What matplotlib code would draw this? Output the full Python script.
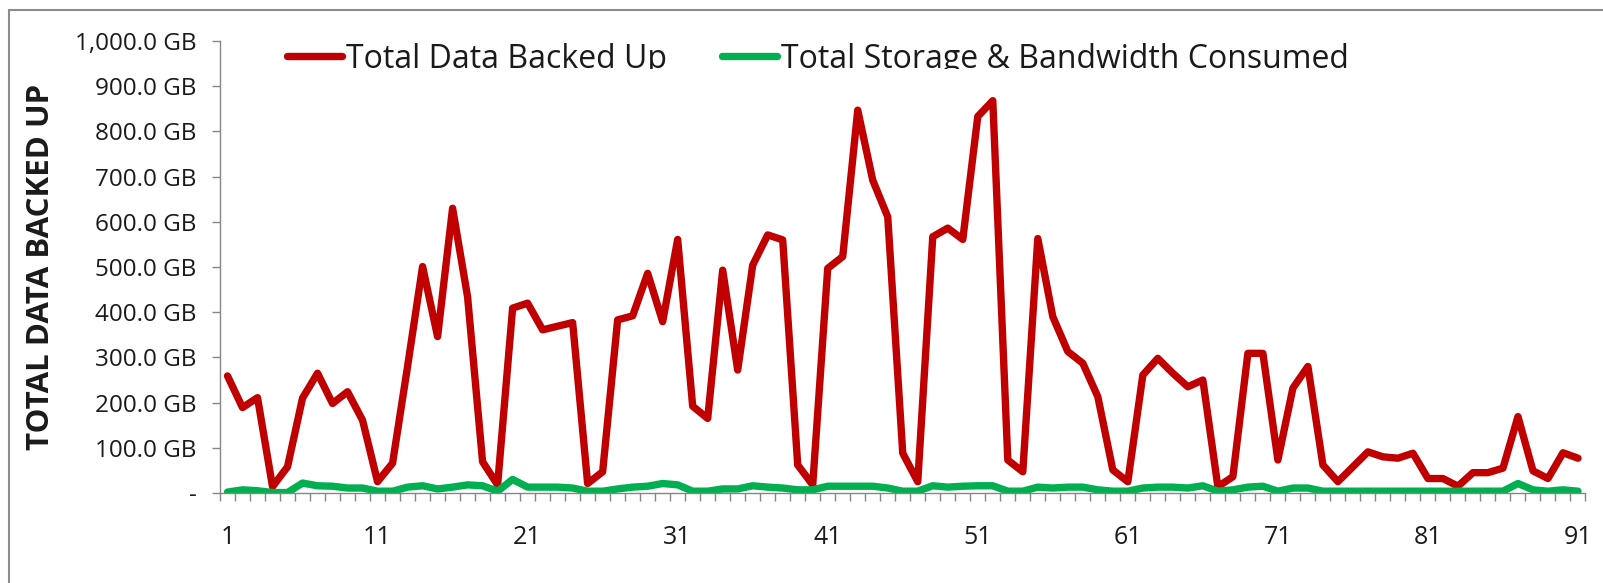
import matplotlib
matplotlib.use("Agg")
import matplotlib.pyplot as plt
from matplotlib.patches import Rectangle
from matplotlib.ticker import FixedLocator, FuncFormatter
from matplotlib.transforms import Bbox, TransformedBbox

# day index 1..91
days = list(range(1, 92))

total_backed_up = [
    259, 189, 211, 14, 58, 210, 265, 198, 224, 161,
    25, 66, 280, 501, 346, 630, 434, 69, 18, 409,
    420, 361, 369, 377, 21, 47, 383, 392, 486, 379,
    561, 192, 165, 493, 272, 504, 571, 560, 62, 18,
    497, 523, 847, 692, 611, 88, 25, 567, 586, 561,
    833, 868, 73, 47, 563, 390, 313, 287, 213, 51,
    25, 261, 298, 265, 235, 250, 14, 36, 309, 309,
    73, 232, 280, 62, 25, 58, 91, 80, 77, 88,
    32, 32, 15, 45, 45, 55, 169, 49, 32, 89,
    77,
]

storage_bandwidth = [
    2, 7, 5, 1, 1, 22, 16, 15, 11, 11,
    4, 4, 13, 16, 9, 13, 18, 16, 4, 30,
    13, 13, 13, 11, 4, 4, 9, 13, 15, 21,
    18, 4, 4, 9, 9, 16, 13, 11, 7, 7,
    15, 15, 15, 15, 11, 4, 4, 16, 13, 15,
    16, 16, 4, 4, 13, 11, 13, 13, 7, 4,
    4, 11, 13, 13, 11, 16, 4, 7, 13, 15,
    4, 11, 11, 4, 4, 4, 4, 4, 4, 4,
    4, 4, 4, 4, 4, 4, 21, 7, 4, 7,
    4,
]

x_labels = list(range(1, 92, 10))
y_ticks = list(range(0, 1001, 100))

RED = "#C00000"
GREEN = "#00B050"
AXIS_GREY = "#868686"
TEXT = "#1a1a1a"
LW = 5.3

plt.rcParams["font.family"] = ["Open Sans", "DejaVu Sans"]

W, H = 1603, 583
fig = plt.figure(figsize=(W / 100, H / 100), dpi=100)
ax = fig.add_axes([220 / W, 90 / H, (1585.5 - 220) / W, (493 - 41) / H])

ax.plot(days, total_backed_up, color=RED, lw=LW, label="Total Data Backed Up",
        solid_joinstyle="round", solid_capstyle="round")
ax.plot(days, storage_bandwidth, color=GREEN, lw=LW,
        label="Total Storage & Bandwidth Consumed",
        solid_joinstyle="round", solid_capstyle="round")

ax.set_xlim(0.5, 91.5)
ax.set_ylim(0, 1000)

for side in ("top", "right"):
    ax.spines[side].set_visible(False)
for side in ("left", "bottom"):
    ax.spines[side].set_color(AXIS_GREY)
    ax.spines[side].set_linewidth(1.0)

# x: labels every 10 days, tick marks between categories
ax.xaxis.set_major_locator(FixedLocator(x_labels))
ax.xaxis.set_minor_locator(FixedLocator([d + 0.5 for d in range(0, 92)]))
ax.tick_params(axis="x", which="major", length=0, pad=23, labelsize=18,
               labelcolor=TEXT)
ax.tick_params(axis="x", which="minor", length=6, width=1.0, color=AXIS_GREY,
               direction="out")

ax.yaxis.set_major_locator(FixedLocator(y_ticks))


def gb(v, _pos):
    if v == 0:
        return "-"
    return f"{v:,.1f} GB"


ax.yaxis.set_major_formatter(FuncFormatter(gb))
ax.tick_params(axis="y", length=6, width=1.0, color=AXIS_GREY, direction="out",
               pad=11, labelsize=17.5, labelcolor=TEXT)

ax.set_ylabel("TOTAL DATA BACKED UP", fontsize=22.5, fontweight="bold",
              color=TEXT)
ax.yaxis.set_label_coords(-0.1201, 0.5)

leg = ax.legend(loc="center left", bbox_to_anchor=(287 / W, 1 - 59 / H),
                bbox_transform=fig.transFigure, ncol=2, frameon=False,
                fontsize=23, handlelength=1.73, handletextpad=0.13,
                columnspacing=1.7, borderpad=0, borderaxespad=0)
for line in leg.get_lines():
    line.set_linewidth(LW)
    line.set_solid_capstyle("round")
# the legend text is cut off at its bottom in the source chart
clip = TransformedBbox(Bbox([[0, 1 - 69 / H], [1, 1]]), fig.transFigure)
for t in leg.get_texts():
    t.set_color(TEXT)
    t.set_clip_box(clip)
    t.set_clip_on(True)

# chart area border (only the left and top edges fall inside the image)
fig.patches.append(Rectangle((9 / W, -0.2), 1.5, 1.2 - 10 / H,
                             transform=fig.transFigure, fill=False,
                             edgecolor="#8c8c8c", lw=1.5))

fig.savefig("out.png", dpi=100)
plt.close(fig)
